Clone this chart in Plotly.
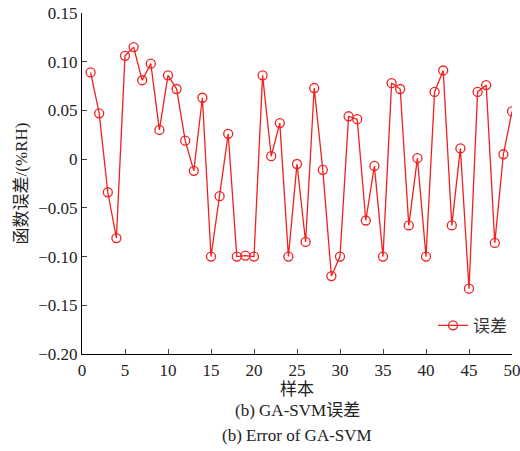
import plotly.graph_objects as go

samples = list(range(1, 51))
errors = [0.089, 0.047, -0.034, -0.081, 0.106, 0.115, 0.081, 0.098, 0.030, 0.086,
          0.072, 0.019, -0.012, 0.063, -0.100, -0.038, 0.026, -0.100, -0.099, -0.100,
          0.086, 0.003, 0.037, -0.100, -0.005, -0.085, 0.073, -0.011, -0.120, -0.100,
          0.044, 0.041, -0.063, -0.007, -0.100, 0.078, 0.072, -0.068, 0.001, -0.100,
          0.069, 0.091, -0.068, 0.011, -0.133, 0.069, 0.076, -0.086, 0.005, 0.049]
x_ticks = [0, 5, 10, 15, 20, 25, 30, 35, 40, 45, 50]
y_ticks = [-0.20, -0.15, -0.10, -0.05, 0, 0.05, 0.10, 0.15]
y_labels = ["−0.20", "−0.15", "−0.10", "−0.05", "0", "0.05", "0.10", "0.15"]

FONT = "'Liberation Serif', 'Noto Sans CJK SC', serif"

fig = go.Figure()
fig.add_trace(go.Scatter(
    x=samples, y=errors, mode="lines+markers", name="误差",
    line=dict(color="#f22020", width=1.3),
    marker=dict(symbol="circle-open", size=9, color="#f22020", line=dict(width=1.3)),
))

fig.update_layout(
    width=520, height=451,
    margin=dict(l=82, r=8, t=13, b=97),
    paper_bgcolor="white", plot_bgcolor="white",
    font=dict(family=FONT, size=17, color="#222"),
    showlegend=True,
    legend=dict(x=1.0, y=0.03, xanchor="right", yanchor="bottom",
                bgcolor="rgba(0,0,0,0)", font=dict(family=FONT, size=17, color="#333")),
    xaxis=dict(range=[0, 50], tickvals=x_ticks, ticks="inside", ticklen=5,
               showline=True, linecolor="black", linewidth=1.2, showgrid=False,
               zeroline=False, tickfont=dict(family=FONT, size=17), automargin=False,
               ticklabeloverflow="allow",
               title=dict(text="样本", font=dict(family=FONT, size=17), standoff=4)),
    yaxis=dict(range=[-0.20, 0.15], tickvals=y_ticks, ticktext=y_labels,
               ticks="inside", ticklen=5, showline=True, linecolor="black",
               linewidth=1.2, showgrid=False, zeroline=False,
               tickfont=dict(family=FONT, size=17), automargin=False,
               ticklabeloverflow="allow",
               title=dict(text="函数误差/(%RH)", font=dict(family=FONT, size=17), standoff=6)),
    annotations=[
        dict(text="(b) GA-SVM误差", x=0.5, y=410, xref="paper", yref="paper",
             showarrow=False, font=dict(family=FONT, size=17)),
        dict(text="(b) Error of GA-SVM", x=0.5, y=435, xref="paper", yref="paper",
             showarrow=False, font=dict(family=FONT, size=17)),
    ],
)
plot_h = 451 - 13 - 97
for ann in fig.layout.annotations:
    ann.y = (451 - 97 - ann.y) / plot_h
    ann.yanchor = "middle"

fig.write_html("out.html", config={"displayModeBar": False},
               post_script="document.body.style.margin='0';document.body.style.overflow='hidden';")
